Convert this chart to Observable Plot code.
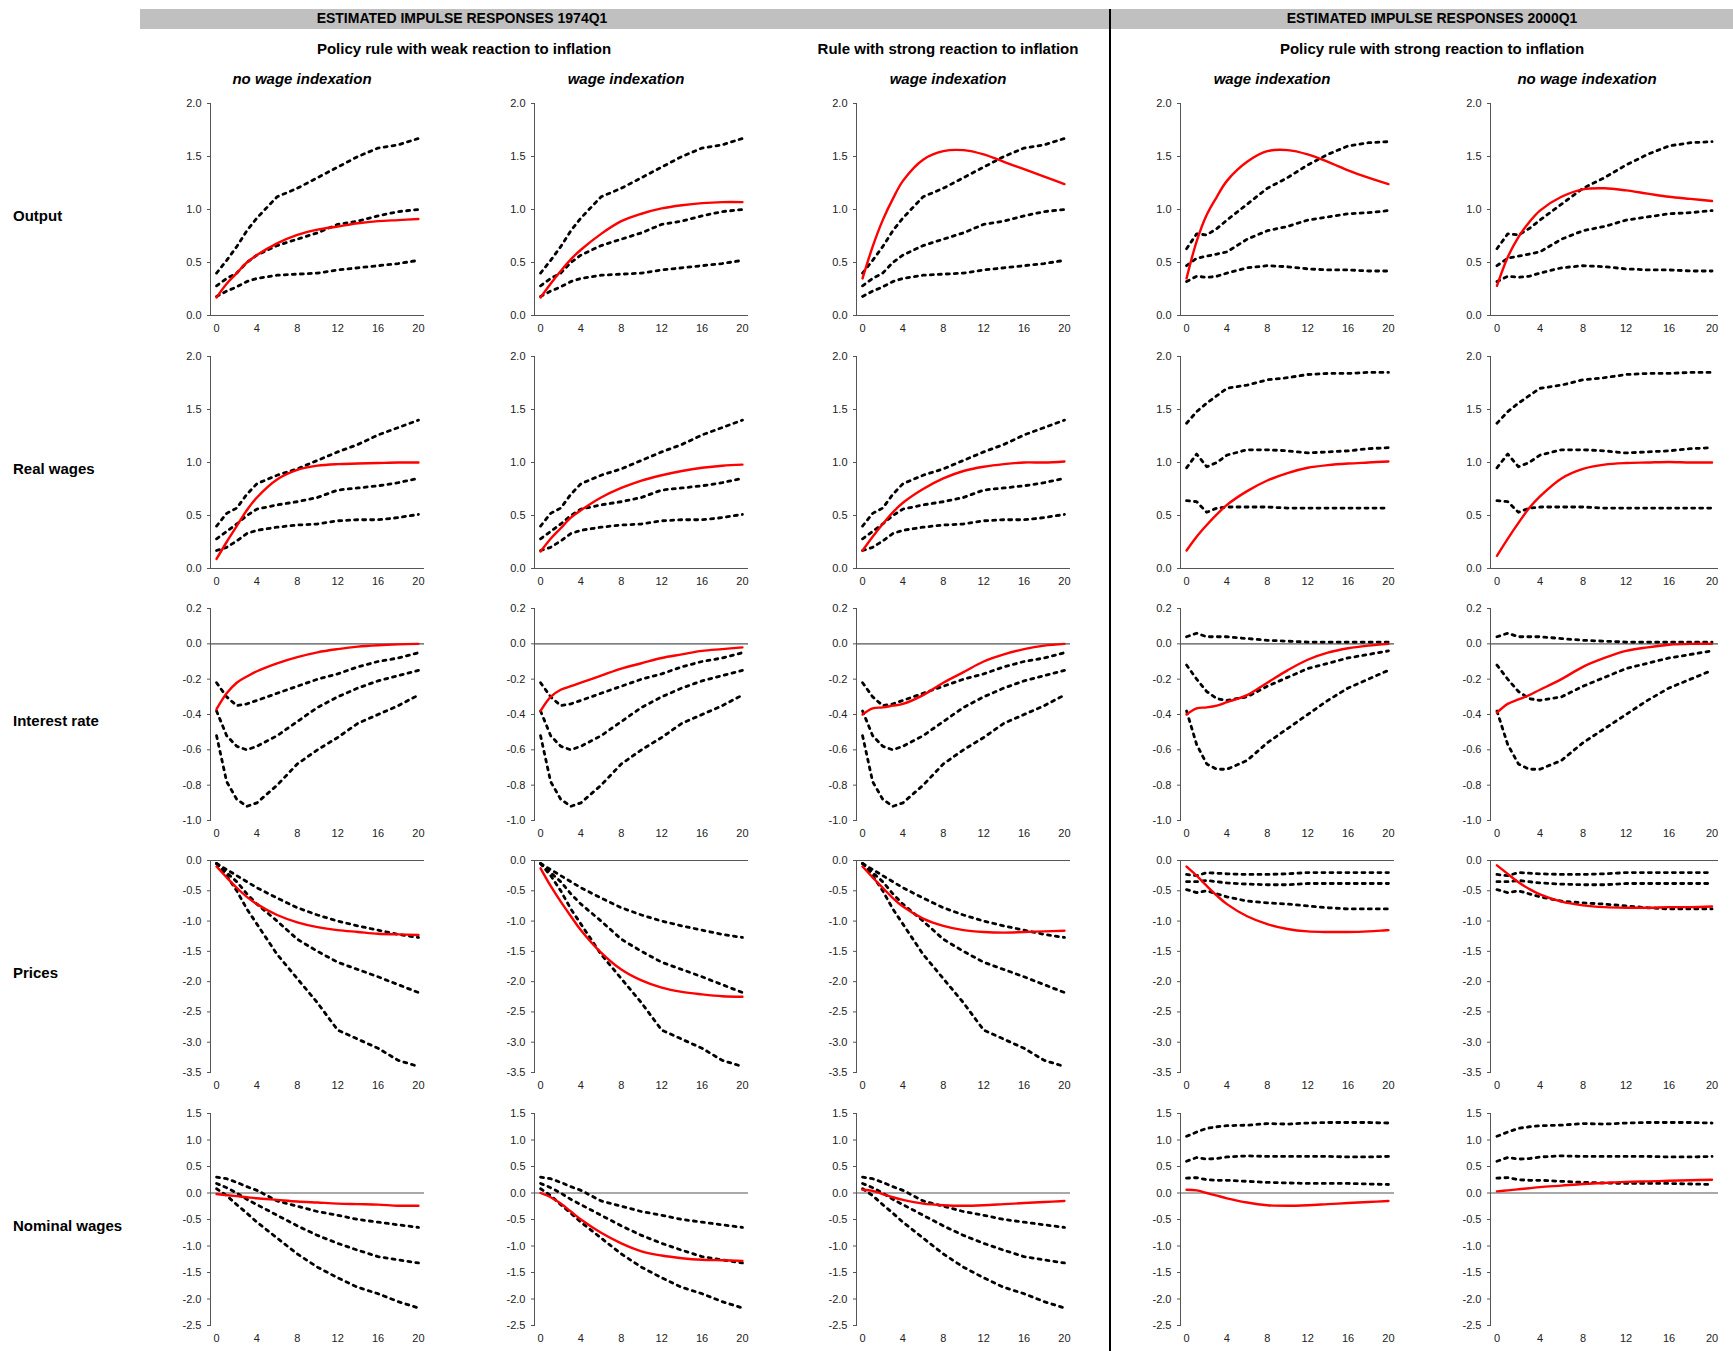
<!DOCTYPE html>
<html><head><meta charset="utf-8">
<script src="https://cdn.jsdelivr.net/npm/d3@7"></script>
<script src="https://cdn.jsdelivr.net/npm/@observablehq/plot@0.6"></script>
<style>
body{margin:0;background:#fff;font-family:"Liberation Sans",Arial,sans-serif;}
#root{position:relative;width:1733px;height:1351px;overflow:hidden;}
.t{position:absolute;white-space:nowrap;font-weight:bold;color:#000;transform:translateX(-50%);}
.p{position:absolute;}
</style></head><body><div id="root"></div>
<script>
const quarters = [0,1,2,3,4,6,8,10,12,14,16,18,20];
const rowNames = ["Output","Real wages","Interest rate","Prices","Nominal wages"];
const colTitles = ["no wage indexation","wage indexation","wage indexation","wage indexation","no wage indexation"];
const yDomains = [[0,2],[0,2],[-1,0.2],[-3.5,0],[-2.5,1.5]];
const yTicks = [d3.range(0,2.01,0.5), d3.range(0,2.01,0.5), d3.range(-1,0.21,0.2), d3.range(-3.5,0.01,0.5), d3.range(-2.5,1.51,0.5)];

// confidence bands: [upper, mid, lower]
const bands1974_output = [
 [0.40,0.52,0.65,0.80,0.92,1.12,1.20,1.30,1.40,1.50,1.58,1.61,1.67],
 [0.28,0.35,0.40,0.50,0.57,0.66,0.72,0.78,0.86,0.89,0.94,0.98,1.00],
 [0.18,0.23,0.27,0.32,0.35,0.38,0.39,0.40,0.43,0.45,0.47,0.49,0.52]];
const bands1974_realwages = [
 [0.40,0.52,0.57,0.70,0.80,0.88,0.94,1.02,1.10,1.17,1.26,1.33,1.40],
 [0.28,0.35,0.42,0.50,0.56,0.60,0.63,0.67,0.74,0.76,0.78,0.81,0.85],
 [0.17,0.20,0.26,0.33,0.36,0.39,0.41,0.42,0.45,0.46,0.46,0.48,0.51]];
const bands1974_interest = [
 [-0.22,-0.30,-0.35,-0.34,-0.32,-0.28,-0.24,-0.20,-0.17,-0.13,-0.10,-0.08,-0.05],
 [-0.38,-0.52,-0.58,-0.60,-0.58,-0.52,-0.44,-0.36,-0.30,-0.25,-0.21,-0.18,-0.15],
 [-0.52,-0.78,-0.88,-0.92,-0.90,-0.80,-0.68,-0.60,-0.53,-0.45,-0.40,-0.35,-0.29]];
const bands1974_prices = [
 [-0.05,-0.15,-0.25,-0.35,-0.45,-0.62,-0.78,-0.90,-1.00,-1.08,-1.15,-1.22,-1.27],
 [-0.05,-0.20,-0.35,-0.55,-0.72,-1.00,-1.30,-1.50,-1.68,-1.80,-1.92,-2.05,-2.18],
 [-0.05,-0.25,-0.50,-0.80,-1.05,-1.55,-1.95,-2.35,-2.80,-2.95,-3.10,-3.30,-3.40]];
const bands1974_nomwages = [
 [0.30,0.27,0.20,0.12,0.05,-0.15,-0.25,-0.35,-0.42,-0.50,-0.55,-0.60,-0.65],
 [0.18,0.10,0.00,-0.12,-0.22,-0.42,-0.62,-0.80,-0.95,-1.08,-1.20,-1.26,-1.32],
 [0.08,-0.05,-0.22,-0.38,-0.55,-0.85,-1.15,-1.40,-1.60,-1.78,-1.90,-2.05,-2.17]];
const bands2000_output = [
 [0.63,0.77,0.76,0.82,0.90,1.05,1.20,1.30,1.42,1.52,1.60,1.63,1.64],
 [0.47,0.54,0.56,0.58,0.60,0.72,0.80,0.84,0.90,0.93,0.96,0.97,0.99],
 [0.32,0.37,0.36,0.37,0.40,0.45,0.47,0.46,0.44,0.43,0.43,0.42,0.42]];
const bands2000_realwages = [
 [1.37,1.48,1.56,1.63,1.70,1.73,1.78,1.80,1.83,1.84,1.84,1.85,1.85],
 [0.95,1.08,0.96,1.00,1.07,1.12,1.12,1.11,1.09,1.10,1.11,1.13,1.14],
 [0.64,0.63,0.53,0.57,0.58,0.58,0.58,0.57,0.57,0.57,0.57,0.57,0.57]];
const bands2000_interest = [
 [0.04,0.06,0.04,0.04,0.04,0.03,0.02,0.015,0.01,0.01,0.01,0.01,0.01],
 [-0.12,-0.20,-0.27,-0.31,-0.32,-0.30,-0.24,-0.19,-0.14,-0.11,-0.08,-0.06,-0.04],
 [-0.38,-0.57,-0.68,-0.71,-0.71,-0.66,-0.56,-0.48,-0.40,-0.32,-0.25,-0.20,-0.15]];
const bands2000_prices = [
 [-0.23,-0.25,-0.20,-0.21,-0.22,-0.23,-0.23,-0.22,-0.20,-0.20,-0.20,-0.20,-0.20],
 [-0.35,-0.35,-0.33,-0.35,-0.37,-0.39,-0.40,-0.40,-0.38,-0.38,-0.38,-0.38,-0.38],
 [-0.48,-0.53,-0.50,-0.55,-0.60,-0.67,-0.70,-0.72,-0.75,-0.78,-0.80,-0.80,-0.80]];
const bands2000_nomwages = [
 [1.07,1.15,1.22,1.25,1.27,1.28,1.31,1.30,1.32,1.33,1.33,1.33,1.32],
 [0.60,0.67,0.64,0.65,0.68,0.70,0.69,0.69,0.69,0.69,0.68,0.68,0.69],
 [0.28,0.29,0.25,0.24,0.24,0.22,0.20,0.19,0.18,0.18,0.18,0.17,0.16]];

// point estimates (red), per column
const est_output = [
 [0.17,0.30,0.40,0.50,0.57,0.68,0.76,0.81,0.84,0.87,0.89,0.90,0.91],
 [0.17,0.30,0.42,0.53,0.62,0.77,0.89,0.96,1.01,1.04,1.06,1.07,1.07],
 [0.35,0.65,0.90,1.10,1.27,1.47,1.55,1.56,1.52,1.45,1.38,1.31,1.24],
 [0.35,0.70,0.95,1.12,1.27,1.45,1.55,1.56,1.52,1.45,1.37,1.30,1.24],
 [0.28,0.55,0.74,0.88,0.99,1.12,1.19,1.20,1.18,1.15,1.12,1.10,1.08]];
const est_realwages = [
 [0.09,0.25,0.40,0.55,0.67,0.84,0.93,0.97,0.985,0.99,0.995,1.0,1.0],
 [0.16,0.28,0.38,0.48,0.55,0.67,0.76,0.83,0.88,0.92,0.95,0.97,0.98],
 [0.17,0.30,0.42,0.53,0.62,0.75,0.85,0.92,0.96,0.985,1.0,1.0,1.01],
 [0.17,0.30,0.41,0.51,0.60,0.73,0.83,0.90,0.95,0.975,0.99,1.0,1.01],
 [0.12,0.28,0.43,0.57,0.68,0.85,0.94,0.98,0.995,1.0,1.005,1.0,1.0]];
const est_interest = [
 [-0.37,-0.28,-0.22,-0.185,-0.155,-0.11,-0.075,-0.048,-0.03,-0.016,-0.008,-0.003,0],
 [-0.38,-0.30,-0.26,-0.24,-0.22,-0.18,-0.14,-0.11,-0.08,-0.06,-0.04,-0.03,-0.02],
 [-0.40,-0.365,-0.36,-0.35,-0.34,-0.29,-0.22,-0.16,-0.10,-0.06,-0.03,-0.01,0],
 [-0.40,-0.365,-0.36,-0.35,-0.33,-0.29,-0.22,-0.15,-0.09,-0.05,-0.025,-0.01,0],
 [-0.39,-0.34,-0.315,-0.29,-0.26,-0.20,-0.13,-0.08,-0.04,-0.02,-0.005,0,0]];
const est_prices = [
 [-0.10,-0.28,-0.45,-0.60,-0.72,-0.90,-1.02,-1.10,-1.15,-1.18,-1.21,-1.22,-1.23],
 [-0.13,-0.42,-0.68,-0.92,-1.15,-1.52,-1.80,-1.98,-2.10,-2.17,-2.21,-2.24,-2.25],
 [-0.10,-0.28,-0.45,-0.62,-0.76,-0.96,-1.08,-1.15,-1.18,-1.19,-1.18,-1.17,-1.16],
 [-0.10,-0.25,-0.42,-0.58,-0.72,-0.92,-1.05,-1.13,-1.17,-1.18,-1.18,-1.17,-1.15],
 [-0.08,-0.22,-0.36,-0.47,-0.56,-0.68,-0.74,-0.77,-0.78,-0.78,-0.77,-0.77,-0.76]];
const est_nomwages = [
 [-0.02,-0.04,-0.06,-0.08,-0.10,-0.13,-0.16,-0.18,-0.20,-0.21,-0.22,-0.24,-0.24],
 [0.00,-0.08,-0.20,-0.35,-0.50,-0.75,-0.95,-1.10,-1.18,-1.23,-1.26,-1.27,-1.28],
 [0.06,0.04,-0.02,-0.08,-0.13,-0.20,-0.23,-0.24,-0.23,-0.21,-0.19,-0.17,-0.15],
 [0.06,0.05,0.00,-0.05,-0.10,-0.18,-0.23,-0.24,-0.23,-0.21,-0.19,-0.17,-0.15],
 [0.03,0.05,0.07,0.09,0.11,0.14,0.17,0.19,0.21,0.22,0.23,0.24,0.25]];

const bands1974 = [bands1974_output,bands1974_realwages,bands1974_interest,bands1974_prices,bands1974_nomwages];
const bands2000 = [bands2000_output,bands2000_realwages,bands2000_interest,bands2000_prices,bands2000_nomwages];
const estimates = [est_output,est_realwages,est_interest,est_prices,est_nomwages];

const root = document.getElementById("root");
function text(str, x, y, size, style) {
  const d = document.createElement("div");
  d.className = "t"; d.textContent = str;
  d.style.left = x + "px"; d.style.top = y + "px"; d.style.fontSize = size + "px";
  if (style) Object.assign(d.style, style);
  root.appendChild(d);
}
const bar = document.createElement("div");
Object.assign(bar.style,{position:"absolute",left:"140px",top:"9px",width:"1593px",height:"20px",background:"#c0c0c0"});
root.appendChild(bar);
const div = document.createElement("div");
Object.assign(div.style,{position:"absolute",left:"1109px",top:"9px",width:"2px",height:"1342px",background:"#000"});
root.appendChild(div);
text("ESTIMATED IMPULSE RESPONSES 1974Q1", 462, 10, 14);
text("ESTIMATED IMPULSE RESPONSES 2000Q1", 1432, 10, 14);
text("Policy rule with weak reaction to inflation", 464, 40, 15);
text("Rule with strong reaction to inflation", 948, 40, 15);
text("Policy rule with strong reaction to inflation", 1432, 40, 15);

const axisX = [210, 534, 856, 1180, 1490];
const innerW = [214, 214, 214, 214, 228];
const rowTop = [103, 356, 608, 860, 1113];
colTitles.forEach((t,i)=>text(t, axisX[i]+92+(i===4?5:0), 70, 15, {fontStyle:"italic"}));
rowNames.forEach((t,r)=>text(t, 13, rowTop[r]+104, 15, {transform:"none"}));

const ML=34, MR=12, MT=6, MB=28, IH=212;
for (let r=0;r<5;r++) for (let c=0;c<5;c++) {
  const b = c<3 ? bands1974[r] : bands2000[r];
  const bandData = [];
  b.forEach((s,k)=>s.forEach((v,i)=>bandData.push({q:quarters[i], v, k})));
  const est = estimates[r][c].map((v,i)=>({q:quarters[i], v}));
  const chart = Plot.plot({
    width: ML+innerW[c]+MR, height: MT+IH+MB,
    marginLeft: ML, marginRight: MR, marginTop: MT, marginBottom: MB,
    style:{fontFamily:"Liberation Sans, Arial, sans-serif", fontSize:"11px", color:"#222", overflow:"visible"},
    x:{domain:[-0.6,20.6]},
    y:{domain:yDomains[r]},
    marks:[
      Plot.axisX({ticks:[0,4,8,12,16,20], tickSize:0, tickPadding:9, label:null, fontSize:11}),
      Plot.axisY({ticks:yTicks[r], tickSize:3, tickFormat:d=>d.toFixed(1), label:null, fontSize:11, stroke:"#555"}),
      Plot.frame({anchor:"left", stroke:"#555"}),
      Plot.ruleY([0], {stroke:"#555", strokeWidth:1.2}),
      Plot.line(bandData, {x:"q", y:"v", z:"k", stroke:"#000", strokeWidth:2.8, strokeDasharray:"3,5"}),
      Plot.line(est, {x:"q", y:"v", stroke:"#ff0000", strokeWidth:2.4, curve:"catmull-rom"})
    ]
  });
  chart.classList.add("p");
  chart.style.left = (axisX[c]-ML) + "px";
  chart.style.top = (rowTop[r]-MT) + "px";
  root.appendChild(chart);
}
</script></body></html>
